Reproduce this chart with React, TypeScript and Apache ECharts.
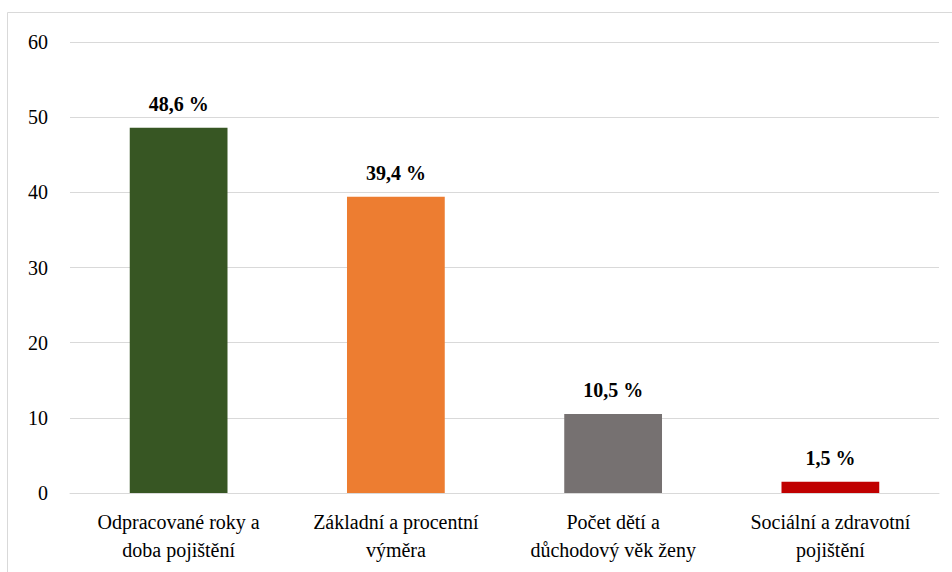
import React, { useEffect, useRef, useState } from "react";
import * as echarts from "echarts";

const categories = [
  "Odpracované roky a\ndoba pojištění",
  "Základní a procentní\nvýměra",
  "Počet dětí a\ndůchodový věk ženy",
  "Sociální a zdravotní\npojištění",
];
const values = [48.6, 39.4, 10.5, 1.5];
const colors = ["#375623", "#ED7D31", "#767171", "#C00000"];
const yTicks = { min: 0, max: 60, interval: 10 };

export default function App() {
  const ref = useRef<HTMLDivElement>(null);
  const [ready, setReady] = useState(0);
  useEffect(() => {
    if (!ref.current) return;
    const chart = echarts.init(ref.current, undefined, { renderer: "svg" });
    const font = "serif";
    const option = {
      animation: false,
      backgroundColor: "#ffffff",
      graphic: [
        {
          type: "rect",
          shape: { x: 7.5, y: 12.5, width: 980, height: 600 },
          style: { fill: "none", stroke: "#d9d9d9", lineWidth: 1 },
          silent: true,
        },
      ],
      grid: { left: 70, right: 13, top: 42, bottom: 79, containLabel: false },
      xAxis: {
        type: "category",
        data: categories,
        axisLine: { lineStyle: { color: "#d9d9d9", width: 1 } },
        axisTick: { show: false },
        axisLabel: {
          interval: 0,
          color: "#000",
          fontFamily: font,
          fontSize: 20,
          lineHeight: 28,
          margin: 15,
        },
      },
      yAxis: {
        type: "value",
        min: yTicks.min,
        max: yTicks.max,
        interval: yTicks.interval,
        axisLine: { show: false },
        axisTick: { show: false },
        splitLine: { lineStyle: { color: "#d9d9d9", width: 1 } },
        axisLabel: { color: "#000", fontFamily: font, fontSize: 20, margin: 22 },
      },
      series: [
        {
          type: "bar",
          barWidth: "45%",
          data: values.map((v, i) => ({ value: v, itemStyle: { color: colors[i] } })),
          label: {
            show: true,
            position: "top",
            distance: 14,
            color: "#000",
            fontFamily: font,
            fontWeight: "bold",
            fontSize: 20,
            formatter: (p: any) => String(p.value).replace(".", ",") + " %",
          },
        },
      ],
    };
    chart.setOption(option);
    const t = setTimeout(() => {
      chart.setOption(option, true);
      setReady(1);
    }, 100);
    return () => {
      clearTimeout(t);
      chart.dispose();
    };
  }, []);
  return (
    <>
      <div
        ref={ref}
        style={{ position: "absolute", left: 0, top: 0, width: 952, height: 572 }}
      />
      <span data-ready={ready} style={{ display: "none" }} />
    </>
  );
}
